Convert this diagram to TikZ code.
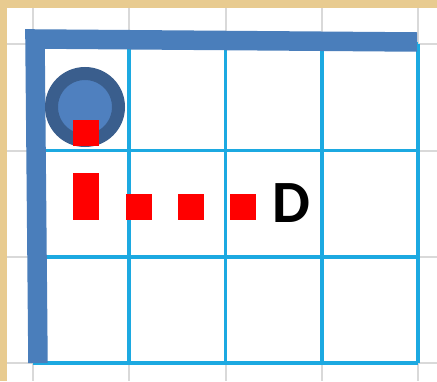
\documentclass[tikz,border=0pt]{standalone}
\usepackage{fontspec}
\setmainfont{Carlito}
\usepackage{xcolor}
\usepackage{tikz}
\usetikzlibrary{calc}
\definecolor{parchment}{HTML}{E8CB90}
\definecolor{cellgrey}{HTML}{D9D9D9}
\definecolor{gridcyan}{HTML}{1CA9E1}
\definecolor{wallblue}{HTML}{4A7EBB}
\definecolor{ballrim}{HTML}{3A5E8D}
\definecolor{ballfill}{HTML}{4F80BF}
\definecolor{trailred}{HTML}{FF0000}

\begin{document}
\begin{tikzpicture}[
    x=1pt,y=-1pt,
    sheetline/.style={draw=cellgrey,line width=1.4pt},
    gridline/.style={draw=gridcyan,line width=3.6pt},
    wall/.style={draw=wallblue,line width=19.5pt,line join=miter},
    ball/.style={circle,draw=ballrim,line width=13pt,fill=ballfill,minimum size=67pt,inner sep=0pt},
    trail/.style={draw=trailred,line width=26pt,line join=miter,dash pattern=on 26pt off 27pt on 47pt off 27pt on 26pt off 26pt on 26pt off 26pt on 26pt off 40pt},
    label/.style={inner sep=0pt,font=\bfseries\fontsize{60}{60}\selectfont}
]
    \useasboundingbox (0,0) rectangle (437,381);
    \fill[parchment] (0,0) rectangle (437,381);
    \fill[white] (7,8) rectangle (437,381);

    \foreach \x in {33,129,226,322,418}
        \draw[sheetline] (\x,8) -- (\x,381);
    \foreach \y in {44,151,257,363}
        \draw[sheetline] (7,\y) -- (437,\y);

    \foreach \x in {33,129.25,225.5,321.75,418}
        \draw[gridline] (\x,44) -- (\x,363);
    \foreach \y in {44,150.5,257,363}
        \draw[gridline] (33,\y) -- (418,\y);

    \draw[wall] (38,363) -- (35,39) -- (417,42);

    \node[ball] (robot) at (85,107) {};
    \node[label] (D) at (291,203) {D};

    \draw[trail] ($(robot.center)+(1,13)$) |- ($(D.west)+(0,4)$);
\end{tikzpicture}
\end{document}
